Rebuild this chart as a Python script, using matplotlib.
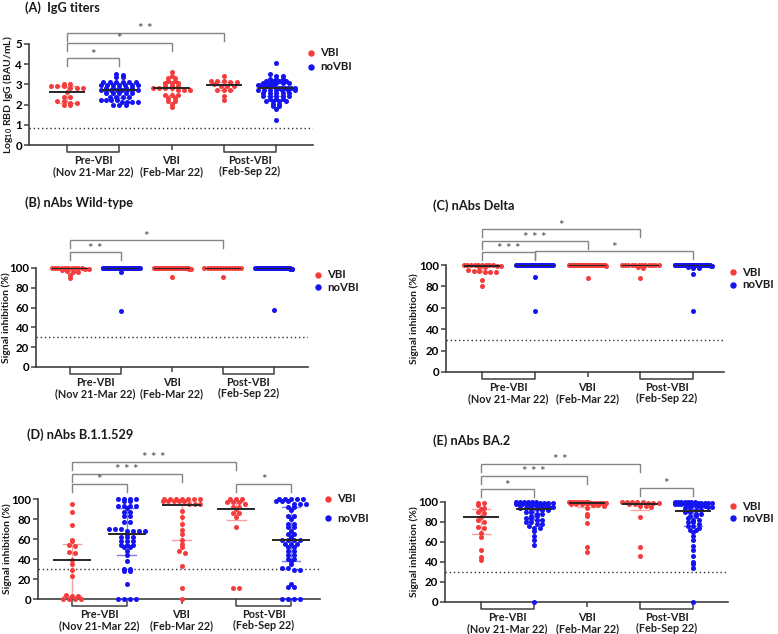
import numpy as np
import matplotlib
matplotlib.use("Agg")
import matplotlib.pyplot as plt
import matplotlib.transforms as mtrans
from matplotlib.lines import Line2D

plt.rcParams['font.family'] = ['Lato', 'DejaVu Sans']
plt.rcParams['mathtext.fontset'] = 'custom'
plt.rcParams['mathtext.rm'] = 'Lato'
plt.rcParams['mathtext.bf'] = 'Lato:bold'

# ------------------------------------------------------------------ data
SERIES = ["VBI", "noVBI"]
GROUP_SERIES = ["VBI", "noVBI", "VBI", "VBI", "noVBI"]
PERIOD_LABELS = ["Pre-VBI\n(Nov 21-Mar 22)", "VBI\n(Feb-Mar 22)", "Post-VBI\n(Feb-Sep 22)"]
PERIOD_POS = [0.5, 2.0, 3.5]

# each group: list of (value, count)
# (A) IgG titers, log10 BAU/mL
A_PRE_VBI = [(3.0, 2), (2.9, 3), (2.8, 3), (2.6, 1), (2.4, 2), (2.2, 2), (2.1, 2), (2.0, 2)]
A_PRE_NOVBI = [(3.5, 1), (3.45, 1), (3.35, 2), (3.1, 6), (2.95, 7), (2.8, 5), (2.7, 8), (2.55, 5),
               (2.4, 4), (2.25, 4), (2.15, 4), (2.0, 3)]
A_VBI = [(3.6, 1), (3.4, 1), (3.3, 2), (3.15, 2), (3.05, 3), (2.9, 3), (2.8, 4), (2.7, 3), (2.5, 3),
         (2.35, 2), (2.2, 2), (2.05, 1), (1.9, 1)]
A_POST_VBI = [(3.4, 1), (3.15, 3), (3.1, 2), (3.0, 1), (2.9, 3), (2.7, 3), (2.45, 1), (2.25, 1)]
A_POST_NOVBI = [(4.05, 1), (3.53, 1), (3.42, 2), (3.28, 3), (3.17, 4), (3.05, 5), (2.95, 6), (2.83, 7),
                (2.7, 7), (2.58, 5), (2.42, 5), (2.3, 3), (2.17, 4), (2.05, 2), (1.95, 2), (1.8, 1), (1.22, 1)]
A_MED = [2.6, 2.7, 2.8, 2.95, 2.8]
A_Q1 = [2.1, 2.35, 2.5, 2.72, 2.45]
A_Q3 = [2.9, 3.05, 3.1, 3.1, 3.05]
A_SIG = [(0, 1, "*", 4.3), (0, 2, "*", 5.05), (0, 3, "* *", 5.55)]
A_THRESHOLD = 0.85

# (B) nAbs Wild-type, signal inhibition %
B_PRE_VBI = [(100, 10), (99, 2), (98, 1), (97, 1), (96, 2), (93, 1), (90, 1)]
B_PRE_NOVBI = [(100, 46), (96, 1), (57, 1)]
B_VBI = [(100, 24), (99, 2), (91, 1)]
B_POST_VBI = [(100, 13), (91, 1)]
B_POST_NOVBI = [(100, 48), (99, 4), (58, 1)]
B_MED = [100, 100, 100, 100, 100]
B_Q1 = [97, 100, 100, 100, 100]
B_Q3 = [100, 100, 100, 100, 100]
B_SIG = [(0, 1, "* *", 116), (0, 3, "*", 128)]

# (C) nAbs Delta
C_PRE_VBI = [(100, 9), (99, 2), (98, 2), (95, 1), (94, 2), (93, 3), (86, 1), (80, 1)]
C_PRE_NOVBI = [(100, 46), (89, 1), (57, 1)]
C_VBI = [(100, 26), (99, 1), (88, 1)]
C_POST_VBI = [(100, 12), (98, 1), (97, 1), (88, 1)]
C_POST_NOVBI = [(100, 46), (99, 2), (98, 1), (97, 2), (92, 1), (57, 1)]
C_MED = [99, 100, 100, 100, 100]
C_Q1 = [93, 100, 100, 99, 99]
C_Q3 = [100, 100, 100, 100, 100]
C_SIG = [(0, 3, "*", 133.5), (0, 2, "* * *", 122), (0, 1, "* * *", 112), (1, 4, "*", 113)]

# (D) nAbs B.1.1.529
D_PRE_VBI = [(95, 1), (87, 1), (74, 1), (59, 1), (58, 1), (54, 1), (53, 1), (47, 1), (46, 1), (39, 1),
             (35, 1), (29, 1), (23, 1), (4, 1), (3, 2), (0, 4)]
D_PRE_NOVBI = [(100, 4), (98, 2), (93, 4), (91, 1), (87, 2), (83, 2), (77, 2), (70, 3), (68, 4), (65, 1),
               (62, 3), (58, 3), (54, 3), (52, 2), (48, 1), (44, 1), (38, 1), (30, 2), (28, 2), (15, 1), (0, 4)]
D_VBI = [(100, 7), (98, 5), (95, 3), (88, 1), (82, 1), (75, 1), (69, 1), (65, 1), (59, 1), (55, 1),
         (52, 1), (48, 1), (46, 1), (33, 1), (11, 1), (0, 1)]
D_POST_VBI = [(100, 3), (97, 3), (95, 1), (92, 2), (90, 1), (86, 2), (82, 1), (72, 1), (11, 2)]
D_POST_NOVBI = [(100, 5), (98, 3), (95, 3), (92, 2), (89, 1), (83, 2), (80, 1), (75, 2), (72, 2), (68, 1),
                (65, 2), (62, 1), (59, 4), (55, 3), (52, 2), (48, 2), (44, 2), (40, 2), (38, 1), (35, 1),
                (31, 2), (29, 2), (15, 1), (12, 2), (0, 4)]
D_MED = [39, 65, 94, 90, 59]
D_Q1 = [3, 44, 59, 79, 38]
D_Q3 = [55, 91, 98, 97, 92]
D_SIG = [(0, 3, "* * *", 137), (0, 2, "* * *", 125), (0, 1, "*", 115), (3, 4, "*", 115)]

# (E) nAbs BA.2
E_PRE_VBI = [(99, 2), (97, 1), (94, 1), (93, 1), (90, 1), (89, 1), (85, 1), (82, 1), (80, 1), (75, 1),
             (74, 1), (69, 1), (65, 1), (52, 1), (45, 1), (42, 1)]
E_PRE_NOVBI = [(100, 6), (99, 4), (98, 4), (97, 3), (96, 3), (95, 2), (94, 2), (93, 2), (92, 2), (90, 2),
               (88, 2), (86, 2), (84, 2), (82, 2), (80, 2), (78, 2), (76, 1), (74, 2), (71, 1), (66, 1),
               (62, 1), (57, 1), (0, 1)]
E_VBI = [(100, 8), (99, 6), (98, 4), (97, 2), (96, 1), (94, 1), (88, 1), (86, 1), (79, 1), (55, 1), (50, 1)]
E_POST_VBI = [(100, 5), (99, 3), (98, 2), (96, 2), (95, 1), (85, 1), (55, 1), (46, 1)]
E_POST_NOVBI = [(100, 7), (99, 5), (98, 4), (97, 3), (96, 3), (95, 2), (94, 2), (92, 2), (90, 2), (88, 2),
                (86, 2), (84, 1), (82, 2), (80, 2), (78, 1), (76, 2), (74, 1), (72, 2), (70, 1), (66, 1),
                (62, 1), (56, 1), (52, 1), (46, 1), (40, 1), (38, 1), (34, 1), (0, 1)]
E_MED = [85, 93, 99, 98.5, 91]
E_Q1 = [68, 82.5, 95, 92.5, 76]
E_Q3 = [93, 98, 100, 100, 98]
E_SIG = [(0, 3, "* *", 138), (0, 2, "* * *", 126), (0, 1, "*", 113), (3, 4, "*", 114)]

NABS_THRESHOLD = 30

# ------------------------------------------------------------------ style
W, H, DPI = 778, 634, 100
COL = {"VBI": "#f43c3c", "noVBI": "#1414f0"}
LIGHT = {"VBI": "#f5a0a0", "noVBI": "#7e7ef2"}
AXCOL = "#404040"
SIGCOL = "#858585"

fig = plt.figure(figsize=(W / DPI, H / DPI), dpi=DPI)


def expand(pairs):
    return np.repeat([p[0] for p in pairs], [p[1] for p in pairs]).astype(float)


def swarm_x(pos, vals, sy, sx, binh, step, maxhalf=18.5):
    top = vals.max()
    rows = np.floor((top - vals) * sy / binh + 0.5).astype(int)
    xs = np.full(len(vals), float(pos))
    for r in np.unique(rows):
        idx = np.where(rows == r)[0]
        n = len(idx)
        if n == 1:
            continue
        d = min(step, 2 * maxhalf / (n - 1))
        off = (np.arange(n) - (n - 1) / 2) * d
        xs[idx] = pos + off / sx
    return xs


def draw_panel(box, gpx, ylim, yticks, groups, med, q1, q3, sig, thr, title, title_xy,
               ylabel, ylabel_x, legend_xy, legend_dy, binh, step):
    l, r, t, b = box
    ax = fig.add_axes([l / W, 1 - b / H, (r - l) / W, (b - t) / H])
    sx = (gpx[1] - gpx[0]) / 4.0
    ax.set_xlim((l - gpx[0]) / sx, (r - gpx[0]) / sx)
    ax.set_ylim(*ylim)
    sy = (b - t) / (ylim[1] - ylim[0])
    for s in ("top", "right"):
        ax.spines[s].set_visible(False)
    for s in ("left", "bottom"):
        ax.spines[s].set_color(AXCOL)
        ax.spines[s].set_linewidth(1.2)
    ax.set_yticks(yticks)
    ax.set_yticklabels([str(v) for v in yticks], fontsize=8.3, fontweight="bold")
    ax.tick_params(axis="y", length=3.5, width=1.1, color=AXCOL, pad=1.5)
    ax.set_xticks([2])
    ax.set_xticklabels([])
    ax.tick_params(axis="x", length=3.5, width=1.1, color=AXCOL)

    for i, pairs in enumerate(groups):
        ser = GROUP_SERIES[i]
        vals = expand(pairs)
        xs = swarm_x(i, vals, sy, sx, binh, step)
        ax.scatter(xs, vals, s=13, color=COL[ser], linewidths=0, zorder=3, clip_on=False)
        # IQR whisker
        ax.plot([i, i], [q1[i], q3[i]], color=LIGHT[ser], lw=1.0, zorder=2, solid_capstyle="butt")
        for q in (q1[i], q3[i]):
            ax.plot([i - 0.17, i + 0.17], [q, q], color=LIGHT[ser], lw=1.0, zorder=2)
        ax.plot([i - 0.33, i + 0.33], [med[i], med[i]], color="#262626", lw=1.4, zorder=4)

    ax.axhline(thr, color="#303030", lw=1.0, linestyle=(0, (1, 2)), zorder=1)

    leg = 8.0 / sy
    for (i, j, lab, y) in sig:
        ax.plot([i, i, j, j], [y - leg, y, y, y - leg], color=SIGCOL, lw=1.0, clip_on=False,
                solid_joinstyle="miter")
        ax.text((i + j) / 2, y - 0.5 / sy, lab, ha="center", va="baseline", fontsize=9.5,
                color="#4a4a4a")

    # group brackets below x-axis
    tr = mtrans.blended_transform_factory(ax.transData, ax.transAxes)
    dy = 7.0 / (b - t)
    for (i, j) in ((0, 1), (3, 4)):
        ax.plot([i, i, j, j], [0, -dy, -dy, 0], color=AXCOL, lw=1.1, transform=tr, clip_on=False)
    for p, lab in zip(PERIOD_POS, PERIOD_LABELS):
        ax.text(p, -10.0 / (b - t), lab, transform=tr, ha="center", va="top", fontsize=7.8,
                fontweight="bold", linespacing=1.0, color="#202020")

    fig.text(title_xy[0] / W, 1 - title_xy[1] / H, title, fontsize=9.2, fontweight="bold",
             va="center", ha="left", color="#1a1a1a")
    fig.text(ylabel_x / W, 1 - (t + b) / 2 / H, ylabel, rotation=90, ha="center", va="center",
             fontsize=7.5, fontweight="bold", color="#1a1a1a")

    mx, my = legend_xy
    for k, ser in enumerate(SERIES):
        yy = 1 - (my + k * legend_dy) / H
        fig.add_artist(Line2D([mx / W], [yy], marker="o", ms=3.6, color=COL[ser], linestyle="none",
                              transform=fig.transFigure))
        fig.text((mx + 9) / W, yy, ser, ha="left", va="center", fontsize=8.2, fontweight="bold",
                 color="#1a1a1a")
    return ax


NABS_TICKS = [0, 20, 40, 60, 80, 100]
SIG_LABEL = "Signal inhibition (%)"

draw_panel((29, 313, 44, 145), (67, 276), (0, 5), [0, 1, 2, 3, 4, 5],
           [A_PRE_VBI, A_PRE_NOVBI, A_VBI, A_POST_VBI, A_POST_NOVBI], A_MED, A_Q1, A_Q3, A_SIG,
           A_THRESHOLD, "(A)  IgG titers", (25, 8), r"Log$_{\mathbf{10}}$ RBD IgG (BAU/mL)", 8,
           (311, 53), 14, 2.9, 6.5)

draw_panel((36, 308, 268, 367), (70, 274), (0, 100), NABS_TICKS,
           [B_PRE_VBI, B_PRE_NOVBI, B_VBI, B_POST_VBI, B_POST_NOVBI], B_MED, B_Q1, B_Q3, B_SIG,
           NABS_THRESHOLD, "(B) nAbs Wild-type", (25, 203), SIG_LABEL, 6, (318, 275), 12, 3.5, 5.5)

draw_panel((446, 724, 265, 372), (482, 693), (0, 100), NABS_TICKS,
           [C_PRE_VBI, C_PRE_NOVBI, C_VBI, C_POST_VBI, C_POST_NOVBI], C_MED, C_Q1, C_Q3, C_SIG,
           NABS_THRESHOLD, "(C) nAbs Delta", (433, 206), SIG_LABEL, 414, (733, 272), 13, 3.5, 5.5)

draw_panel((38, 320, 499, 599), (72, 291), (0, 100), NABS_TICKS,
           [D_PRE_VBI, D_PRE_NOVBI, D_VBI, D_POST_VBI, D_POST_NOVBI], D_MED, D_Q1, D_Q3, D_SIG,
           NABS_THRESHOLD, "(D) nAbs B.1.1.529", (27, 435), SIG_LABEL, 7, (328, 499), 19, 3.5, 6.0)

draw_panel((445, 728, 502, 602), (481, 693), (0, 100), NABS_TICKS,
           [E_PRE_VBI, E_PRE_NOVBI, E_VBI, E_POST_VBI, E_POST_NOVBI], E_MED, E_Q1, E_Q3, E_SIG,
           NABS_THRESHOLD, "(E) nAbs BA.2", (433, 441), SIG_LABEL, 414, (733, 506), 12, 3.5, 5.5)

fig.savefig("out.png", dpi=DPI, facecolor="white")
